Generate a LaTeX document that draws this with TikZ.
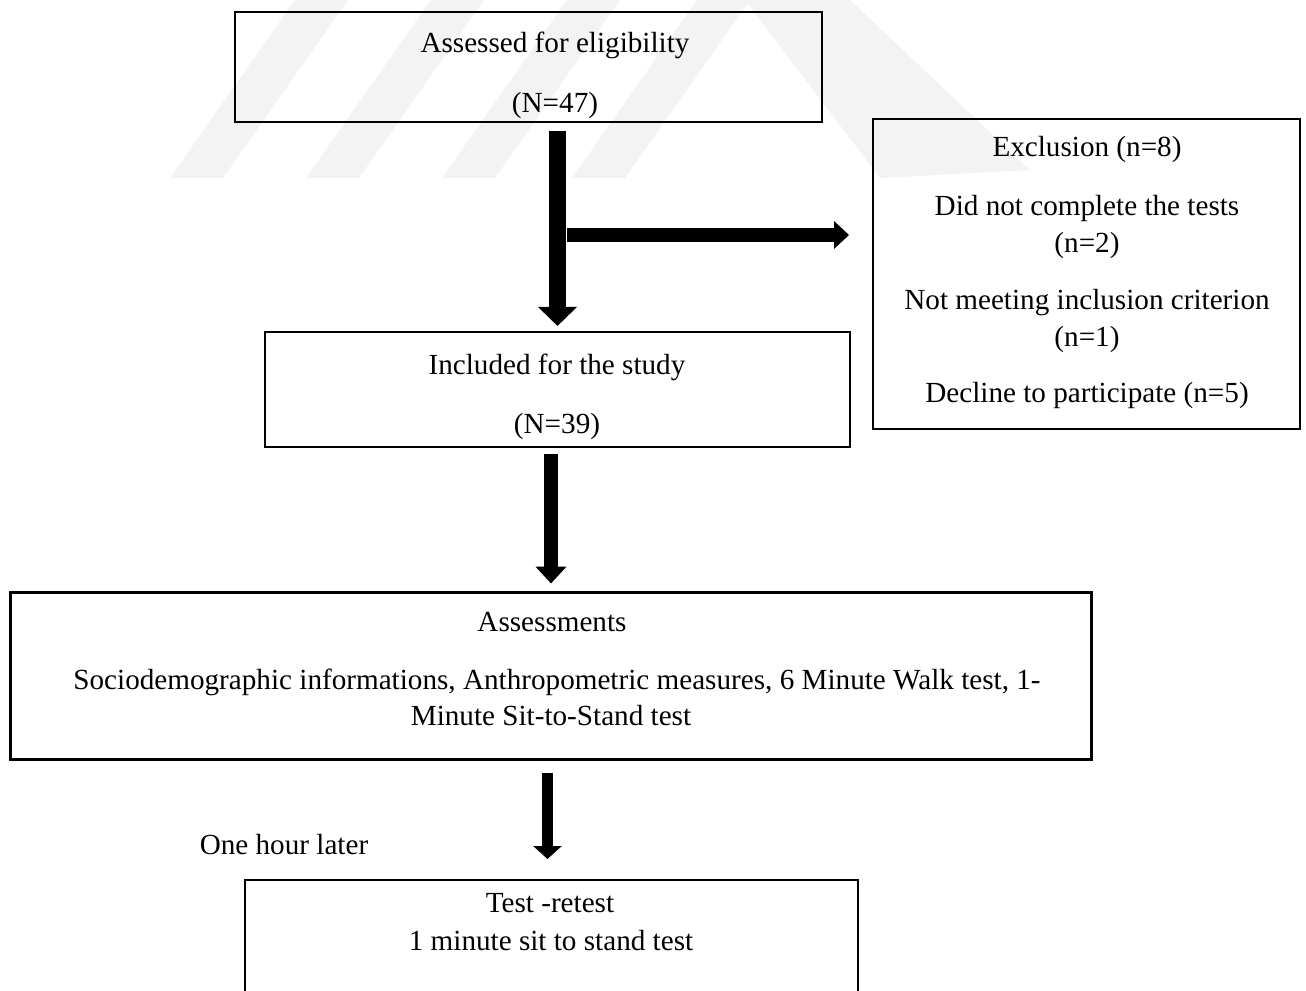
\documentclass[tikz,border=0pt]{standalone}
\usepackage{fontspec}
\setmainfont{Liberation Serif}
\usetikzlibrary{arrows.meta}
\definecolor{wmark}{RGB}{243,243,243}
\newcommand\wstripe[1]{
  \fill[wmark] (#1,178) -- (#1+53,178) -- (#1+178,0) -- (#1+125,0) --cycle;
}
\tikzset{
  box/.style={draw=black, line width=1.3pt, inner sep=0pt},
  txt/.style={inner sep=0pt, text height=11pt, text depth=3.5pt, yshift=-1.5pt},
  fat/.style n args={3}{line width=#1, -{Triangle[width=#2,length=#3]}}
}

\begin{document}
\begin{tikzpicture}[x=0.02cm, y=-0.02cm, font=\fontsize{16.6}{19.5}\selectfont]
\useasboundingbox (0,0) rectangle (1306,991);
\clip (0,0) rectangle (1306,991);

% watermark
\wstripe{170};
\wstripe{306};
\wstripe{442};
\wstripe{572};
\fill[wmark] (745,0) -- (850,0) -- (1030,170) -- (880,178) --cycle;

\node[box, minimum width=11.74cm, minimum height=2.2cm] (elig) at (528.5,67) {};
\node[box, minimum width=11.7cm, minimum height=2.3cm] (incl) at (557.5,389.5) {};
\node[box, minimum width=8.54cm, minimum height=6.2cm] (excl) at (1086.5,274) {};
\node[box, line width=1.7pt, minimum width=21.64cm, minimum height=3.36cm] (assess) at (551,676) {};
\node[box, minimum width=12.26cm, minimum height=2.8cm] (retest) at (551.5,950) {};

\node[txt] (eligA) at (555,43) {Assessed for eligibility};
\node[txt] (eligB) at (555,103) {(N=47)};
\node[txt] (inclA) at (557,365) {Included for the study};
\node[txt] (inclB) at (557,424) {(N=39)};

\node[txt] (exclA) at (1087,147) {Exclusion (n=8)};
\node[txt] (exclB) at (1087,206) {Did not complete the tests};
\node[txt] (exclC) at (1087,243) {(n=2)};
\node[txt] (exclD) at (1087,300) {Not meeting inclusion criterion};
\node[txt] (exclE) at (1087,337) {(n=1)};
\node[txt] (exclF) at (1087,393) {Decline to participate (n=5)};

\node[txt] (assessA) at (552,622) {Assessments};
\node[txt] (assessB) at (557,680) {Sociodemographic informations, Anthropometric measures, 6 Minute Walk test, 1-};
\node[txt] (assessC) at (551,716) {Minute Sit-to-Stand test};

\node[txt] (later) at (284,845) {One hour later};
\node[txt] (retestA) at (550,903) {Test -retest};
\node[txt] (retestB) at (551,941) {1 minute sit to stand test};

\coordinate (split) at (567,235);

\draw[fat={10.2pt}{21.5pt}{10.8pt}, shorten <=4.5pt, shorten >=2.8pt] (elig.south -| incl.north) -- (incl.north);
\draw[fat={8.5pt}{15.3pt}{8.5pt}, shorten >=13pt] (split) -- (split -| excl.west);
\draw[fat={7.9pt}{17pt}{9.6pt}, shorten <=3.4pt, shorten >=4pt] (assess.north |- incl.south) -- (assess.north);
\draw[fat={6.8pt}{15.9pt}{7.4pt}, shorten <=6.8pt, shorten >=11.3pt] ([xshift=-2pt]assess.south) -- ([xshift=-2pt]assess.south |- retest.north);

\end{tikzpicture}
\end{document}
